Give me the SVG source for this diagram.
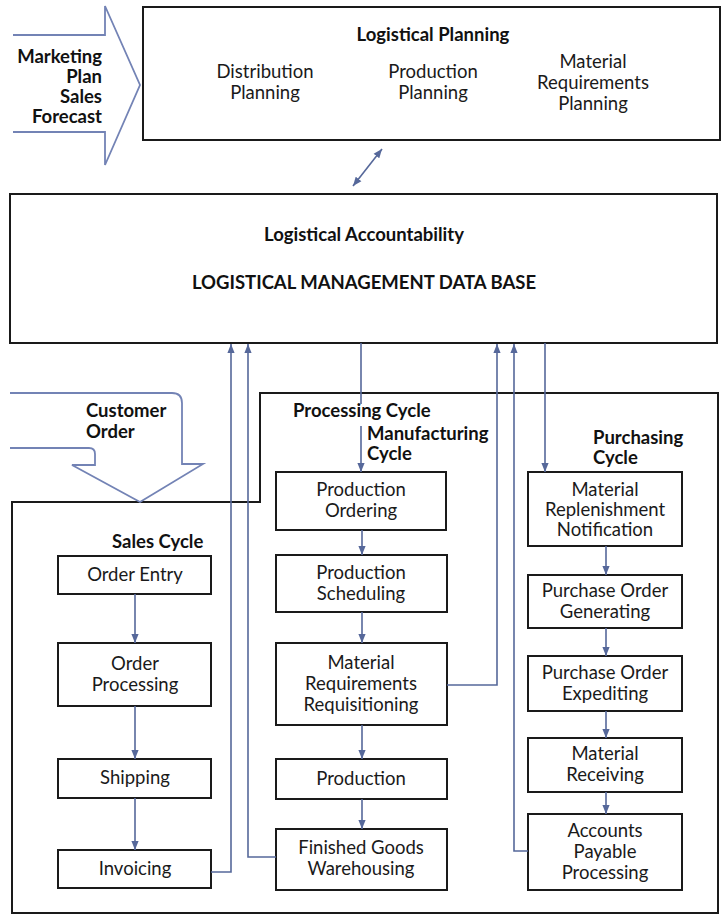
<svg xmlns="http://www.w3.org/2000/svg" width="723" height="916" viewBox="0 0 723 916">
<defs>
<marker id="ah" viewBox="0 0 10 10" refX="10" refY="5" markerWidth="9" markerHeight="9" markerUnits="userSpaceOnUse" orient="auto-start-reverse">
<path d="M0,1 L10,5 L0,9 Z" fill="#56689a"/>
</marker>
<style>
.box{fill:#fff;stroke:#1a1a1a;stroke-width:2}
.t{font-family:Lato,"Open Sans","Liberation Sans",sans-serif;font-size:18.5px;fill:#1a1a1a;text-anchor:middle}
.b{font-family:Lato,"Open Sans","Liberation Sans",sans-serif;font-size:18.5px;font-weight:bold;fill:#111}
.c{fill:none;stroke:#56689a;stroke-width:1.6}
.big{fill:none;stroke:#7383b5;stroke-width:1.8}
</style>
</defs>
<rect width="723" height="916" fill="#fff"/>

<g id="marketing-input">
<path class="big" d="M13,35 H105 V6 L140,85 L105,165 V132 H13"/>
<text class="b" text-anchor="end" x="102" y="63">Marketing</text>
<text class="b" text-anchor="end" x="102" y="83">Plan</text>
<text class="b" text-anchor="end" x="102" y="103">Sales</text>
<text class="b" text-anchor="end" x="102" y="123">Forecast</text>
</g>

<g id="logistical-planning">
<rect class="box" x="143" y="7" width="577" height="133"/>
<text class="b" text-anchor="middle" x="433" y="41">Logistical Planning</text>
<text class="t" x="265" y="78">Distribution</text>
<text class="t" x="265" y="99">Planning</text>
<text class="t" x="433" y="78">Production</text>
<text class="t" x="433" y="99">Planning</text>
<text class="t" x="593" y="68">Material</text>
<text class="t" x="593" y="89">Requirements</text>
<text class="t" x="593" y="110">Planning</text>
</g>

<g id="data-base">
<rect class="box" x="10" y="194" width="707" height="149"/>
<text class="b" text-anchor="middle" x="364" y="241">Logistical Accountability</text>
<text class="b" text-anchor="middle" x="364" y="289">LOGISTICAL MANAGEMENT DATA BASE</text>
</g>

<g id="processing-cycle">
<path fill="none" stroke="#1a1a1a" stroke-width="2" d="M12,913 V502 H260 V393 H718 V913 Z"/>
<text class="b" x="293" y="417">Processing Cycle</text>
<text class="b" x="367" y="440">Manufacturing</text>
<text class="b" x="367" y="460">Cycle</text>
<text class="b" x="593" y="444">Purchasing</text>
<text class="b" x="593" y="464">Cycle</text>
<text class="b" x="112" y="548">Sales Cycle</text>
</g>

<g id="customer-order">
<path class="big" d="M10,393 H172 Q182,393 182,403 V464 H203 L140,502 L72,465 H95 V454 Q95,448 89,448 H10"/>
<text class="b" x="86" y="417">Customer</text>
<text class="b" x="86" y="438">Order</text>
</g>

<g id="order-entry"><rect class="box" x="58" y="556" width="153" height="38"/><text class="t" x="135" y="581">Order Entry</text></g>
<g id="order-processing"><rect class="box" x="58" y="643" width="153" height="63"/><text class="t" x="135" y="670">Order</text><text class="t" x="135" y="691">Processing</text></g>
<g id="shipping"><rect class="box" x="58" y="759" width="153" height="39"/><text class="t" x="135" y="784">Shipping</text></g>
<g id="invoicing"><rect class="box" x="58" y="850" width="153" height="38"/><text class="t" x="135" y="875">Invoicing</text></g>

<g id="production-ordering"><rect class="box" x="276" y="472" width="170" height="58"/><text class="t" x="361" y="496">Production</text><text class="t" x="361" y="517">Ordering</text></g>
<g id="production-scheduling"><rect class="box" x="276" y="555" width="171" height="57"/><text class="t" x="361" y="579">Production</text><text class="t" x="361" y="600">Scheduling</text></g>
<g id="material-requirements-requisitioning"><rect class="box" x="276" y="643" width="171" height="82"/><text class="t" x="361" y="669">Material</text><text class="t" x="361" y="690">Requirements</text><text class="t" x="361" y="711">Requisitioning</text></g>
<g id="production"><rect class="box" x="276" y="759" width="171" height="40"/><text class="t" x="361" y="785">Production</text></g>
<g id="finished-goods-warehousing"><rect class="box" x="276" y="829" width="171" height="61"/><text class="t" x="361" y="854">Finished Goods</text><text class="t" x="361" y="875">Warehousing</text></g>

<g id="material-replenishment-notification"><rect class="box" x="528" y="472" width="154" height="74"/><text class="t" x="605" y="496">Material</text><text class="t" x="605" y="516">Replenishment</text><text class="t" x="605" y="536">Notification</text></g>
<g id="purchase-order-generating"><rect class="box" x="528" y="575" width="154" height="53"/><text class="t" x="605" y="597">Purchase Order</text><text class="t" x="605" y="618">Generating</text></g>
<g id="purchase-order-expediting"><rect class="box" x="528" y="656" width="154" height="55"/><text class="t" x="605" y="679">Purchase Order</text><text class="t" x="605" y="700">Expediting</text></g>
<g id="material-receiving"><rect class="box" x="528" y="738" width="154" height="54"/><text class="t" x="605" y="760">Material</text><text class="t" x="605" y="781">Receiving</text></g>
<g id="accounts-payable-processing"><rect class="box" x="528" y="814" width="154" height="76"/><text class="t" x="605" y="837">Accounts</text><text class="t" x="605" y="858">Payable</text><text class="t" x="605" y="879">Processing</text></g>

<g id="connectors">
<line class="c" x1="353" y1="186" x2="382" y2="149" marker-start="url(#ah)" marker-end="url(#ah)"/>
<line class="c" x1="135" y1="594" x2="135" y2="643" marker-end="url(#ah)"/>
<line class="c" x1="135" y1="706" x2="135" y2="759" marker-end="url(#ah)"/>
<line class="c" x1="135" y1="798" x2="135" y2="850" marker-end="url(#ah)"/>
<polyline class="c" points="211,872 231,872 231,344" marker-end="url(#ah)"/>
<polyline class="c" points="276,857 248,857 248,344" marker-end="url(#ah)"/>
<line class="c" x1="361" y1="343" x2="361" y2="404"/>
<line class="c" x1="361" y1="426" x2="361" y2="472" marker-end="url(#ah)"/>
<line class="c" x1="362" y1="530" x2="362" y2="555" marker-end="url(#ah)"/>
<line class="c" x1="362" y1="612" x2="362" y2="643" marker-end="url(#ah)"/>
<line class="c" x1="362" y1="725" x2="362" y2="759" marker-end="url(#ah)"/>
<line class="c" x1="362" y1="799" x2="362" y2="829" marker-end="url(#ah)"/>
<polyline class="c" points="447,685 497,685 497,344" marker-end="url(#ah)"/>
<polyline class="c" points="528,851 514,851 514,344" marker-end="url(#ah)"/>
<line class="c" x1="545" y1="343" x2="545" y2="472" marker-end="url(#ah)"/>
<line class="c" x1="606" y1="546" x2="606" y2="575" marker-end="url(#ah)"/>
<line class="c" x1="606" y1="628" x2="606" y2="656" marker-end="url(#ah)"/>
<line class="c" x1="606" y1="711" x2="606" y2="738" marker-end="url(#ah)"/>
<line class="c" x1="606" y1="792" x2="606" y2="814" marker-end="url(#ah)"/>
</g>
</svg>
